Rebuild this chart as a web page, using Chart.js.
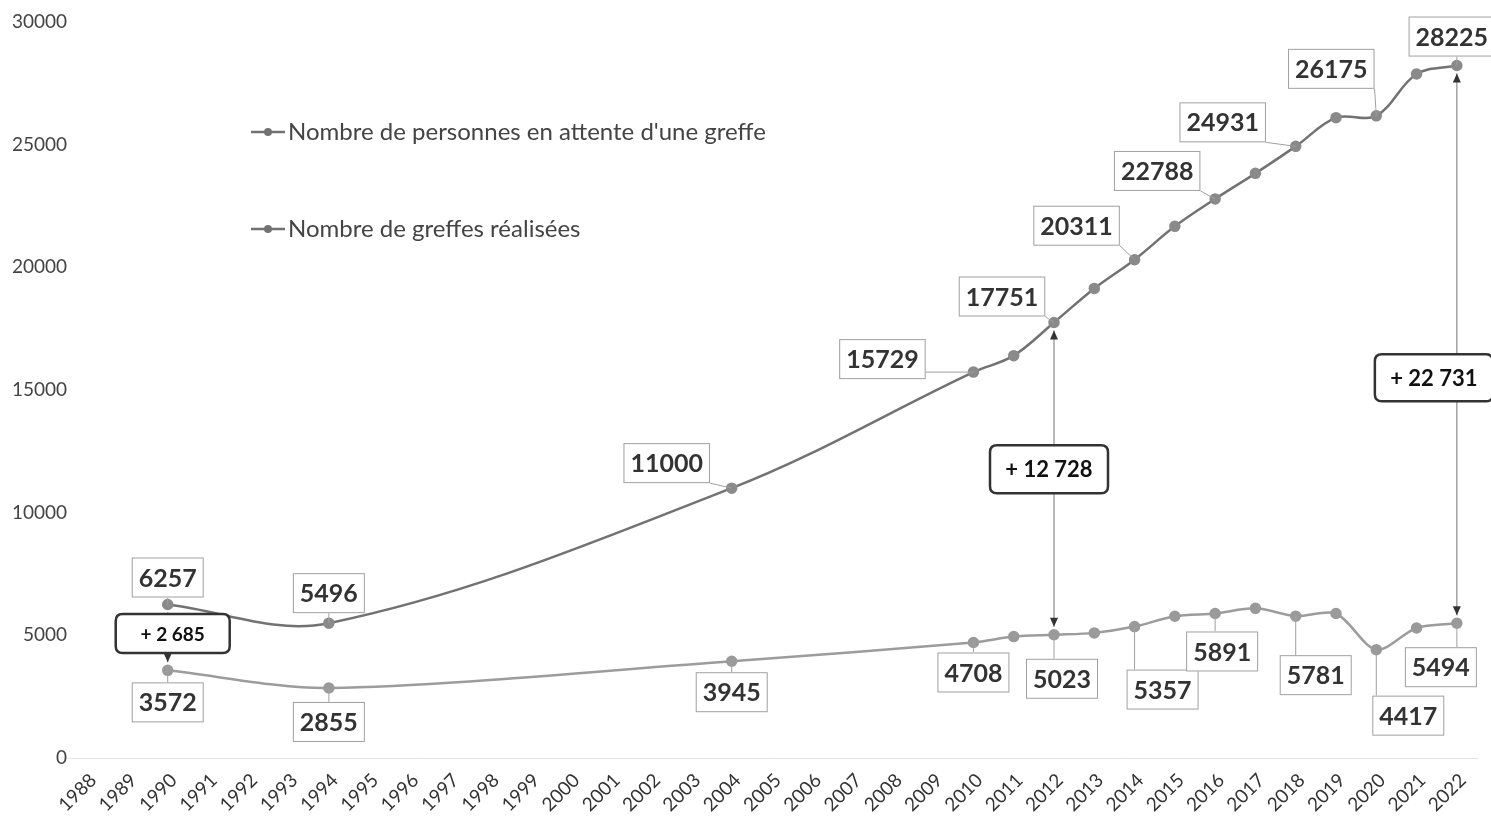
<!DOCTYPE html>
<html>
<head>
<meta charset="utf-8">
<script src="https://cdn.jsdelivr.net/npm/chart.js@4"></script>
<style>
  body { margin: 0; background: #fff; }
  #wrap { width: 1491px; height: 829px; }
</style>
</head>
<body>
<div id="wrap"><canvas id="canvas"></canvas></div>
<script>
//****DATA****//

var years = ['1988', '1989', '1990', '1991', '1992', '1993', '1994', '1995', '1996', '1997',
  '1998', '1999', '2000', '2001', '2002', '2003', '2004', '2005', '2006', '2007', '2008',
  '2009', '2010', '2011', '2012', '2013', '2014', '2015', '2016', '2017', '2018', '2019',
  '2020', '2021', '2022'];

var waitingLabel = 'Nombre de personnes en attente d\'une greffe';
var waiting = [null, null, 6257, null, null, null, 5496, null, null, null,
  null, null, null, null, null, null, 11000, null, null, null, null,
  null, 15729, 16400, 17751, 19140, 20311, 21670, 22788, 23830, 24931, 26100,
  26175, 27880, 28225];

var graftsLabel = 'Nombre de greffes réalisées';
var grafts = [null, null, 3572, null, null, null, 2855, null, null, null,
  null, null, null, null, null, null, 3945, null, null, null, null,
  null, 4708, 4950, 5023, 5100, 5357, 5780, 5891, 6100, 5781, 5890,
  4417, 5300, 5494];

var labelledYears = ['1990', '1994', '2004', '2010', '2012', '2014', '2016', '2018', '2020', '2022'];
var gapYears = ['1990', '2012', '2022'];

var yTicks = [0, 5000, 10000, 15000, 20000, 25000, 30000];

//****STYLE (pixel offsets of the callouts, not data)****//

var waitingOffsets = [[0, -27], [0, -30], [-65, -25], [-91, -13], [-52, -26],
  [-58, -34], [-58, -28], [-73, -24], [-45, -47], [-5, -29]];
var graftsOffsets = [[0, 32], [0, 34], [0, 31], [0, 30], [8, 44],
  [28, 63], [7, 38], [20, 59], [32, 66], [-16, 44]];
var gapStyle = [
  { dx: 5, frac: 0.56, font: 19, w: 114, h: 39 },
  { dx: -5, frac: 0.53, font: 22, w: 118, h: 48 },
  { dx: -23, frac: 0.44, font: 22, w: 118, h: 47 }
];

var darkLine = '#727272';
var lightLine = '#9c9c9c';
var fontName = 'Lato, "Open Sans", sans-serif';

//****HELPERS****//

function fmtGap(n) {
  var s = String(n);
  return '+ ' + s.replace(/\B(?=(\d{3})+(?!\d))/g, ' ');
}

function roundRect(ctx, x, y, w, h, r) {
  ctx.beginPath();
  ctx.moveTo(x + r, y);
  ctx.lineTo(x + w - r, y);
  ctx.quadraticCurveTo(x + w, y, x + w, y + r);
  ctx.lineTo(x + w, y + h - r);
  ctx.quadraticCurveTo(x + w, y + h, x + w - r, y + h);
  ctx.lineTo(x + r, y + h);
  ctx.quadraticCurveTo(x, y + h, x, y + h - r);
  ctx.lineTo(x, y + r);
  ctx.quadraticCurveTo(x, y, x + r, y);
  ctx.closePath();
}

function arrowHead(ctx, x, y, dir) {
  ctx.beginPath();
  ctx.moveTo(x, y);
  ctx.lineTo(x - 4, y + dir * 9);
  ctx.lineTo(x + 4, y + dir * 9);
  ctx.closePath();
  ctx.fill();
}

function callout(ctx, chart, values, offsets) {
  var xs = chart.scales.x, ys = chart.scales.y;
  for (var i = 0; i < labelledYears.length; i++) {
    var idx = years.indexOf(labelledYears[i]);
    var v = values[idx];
    var px = xs.getPixelForValue(idx), py = ys.getPixelForValue(v);
    ctx.font = 'bold 25px ' + fontName;
    var txt = String(v);
    var w = ctx.measureText(txt).width + 14, h = 40;
    var bx = px + offsets[i][0] - w / 2, by = py + offsets[i][1] - h / 2;
    var nx = Math.max(bx, Math.min(px, bx + w));
    var ny = Math.max(by, Math.min(py, by + h));
    ctx.strokeStyle = '#a0a0a0';
    ctx.lineWidth = 1;
    ctx.beginPath();
    ctx.moveTo(px, py);
    ctx.lineTo(nx, ny);
    ctx.stroke();
    ctx.fillStyle = '#fff';
    ctx.fillRect(bx, by, w, h);
    ctx.strokeRect(bx + 0.5, by + 0.5, w - 1, h - 1);
    ctx.fillStyle = '#333';
    ctx.textAlign = 'center';
    ctx.textBaseline = 'middle';
    ctx.fillText(txt, bx + w / 2, by + h / 2 + 1);
  }
}

//****PLUGIN****//

var annotations = {
  id: 'annotations',
  afterDatasetsDraw: function(chart) {
    var ctx = chart.ctx;
    var xs = chart.scales.x, ys = chart.scales.y;
    ctx.save();

    // gap arrows
    var boxes = [];
    for (var g = 0; g < gapYears.length; g++) {
      var idx = years.indexOf(gapYears[g]);
      var x = xs.getPixelForValue(idx);
      var yu = ys.getPixelForValue(waiting[idx]);
      var yl = ys.getPixelForValue(grafts[idx]);
      ctx.strokeStyle = '#8a8a8a';
      ctx.lineWidth = 1.2;
      ctx.beginPath();
      ctx.moveTo(x, yu + 8);
      ctx.lineTo(x, yl - 8);
      ctx.stroke();
      ctx.fillStyle = '#333';
      arrowHead(ctx, x, yu + 8, 1);
      arrowHead(ctx, x, yl - 8, -1);
      boxes.push({ x: x + gapStyle[g].dx, y: yl - (yl - yu) * gapStyle[g].frac,
        txt: fmtGap(waiting[idx] - grafts[idx]), s: gapStyle[g] });
    }

    callout(ctx, chart, waiting, waitingOffsets);
    callout(ctx, chart, grafts, graftsOffsets);

    for (var b = 0; b < boxes.length; b++) {
      var bx = boxes[b];
      roundRect(ctx, bx.x - bx.s.w / 2, bx.y - bx.s.h / 2, bx.s.w, bx.s.h, 7);
      ctx.fillStyle = '#fff';
      ctx.fill();
      ctx.strokeStyle = '#333';
      ctx.lineWidth = 2.5;
      ctx.stroke();
      ctx.fillStyle = '#111';
      ctx.font = 'bold ' + bx.s.font + 'px ' + fontName;
      ctx.textAlign = 'center';
      ctx.textBaseline = 'middle';
      ctx.fillText(bx.txt, bx.x, bx.y + 1);
    }

    // legend
    var items = [[waitingLabel, darkLine, 132], [graftsLabel, darkLine, 229]];
    for (var k = 0; k < items.length; k++) {
      var ly = items[k][2];
      ctx.strokeStyle = items[k][1];
      ctx.fillStyle = items[k][1];
      ctx.lineWidth = 2.5;
      ctx.beginPath();
      ctx.moveTo(251, ly);
      ctx.lineTo(285, ly);
      ctx.stroke();
      ctx.beginPath();
      ctx.arc(268, ly, 4, 0, Math.PI * 2);
      ctx.fill();
      ctx.fillStyle = '#444';
      ctx.font = '24px ' + fontName;
      ctx.textAlign = 'left';
      ctx.textBaseline = 'middle';
      ctx.fillText(items[k][0], 288, ly);
    }
    ctx.restore();
  }
};

//****CHART****//

var ctx = document.getElementById('canvas').getContext('2d');

var chart = new Chart(ctx, {
  type: 'line',
  data: {
    labels: years,
    datasets: [
      {
        label: waitingLabel,
        data: waiting,
        borderColor: darkLine,
        backgroundColor: darkLine,
        borderWidth: 2.5,
        pointRadius: 4.5,
        pointBackgroundColor: '#8a8a8a',
        pointBorderColor: '#8a8a8a',
        tension: 0.35,
        spanGaps: true
      },
      {
        label: graftsLabel,
        data: grafts,
        borderColor: lightLine,
        backgroundColor: lightLine,
        borderWidth: 2.5,
        pointRadius: 4.5,
        pointBackgroundColor: '#9a9a9a',
        pointBorderColor: '#9a9a9a',
        tension: 0.3,
        spanGaps: true
      }
    ]
  },
  options: {
    responsive: true,
    maintainAspectRatio: false,
    animation: false,
    layout: { padding: { left: 0, right: 14, top: 22, bottom: 0 } },
    plugins: {
      legend: { display: false },
      tooltip: { enabled: false }
    },
    scales: {
      x: {
        offset: true,
        grid: { display: false },
        border: { display: true, color: '#e4e4e4' },
        ticks: {
          autoSkip: false,
          maxRotation: 45,
          minRotation: 45,
          labelOffset: 6,
          color: '#333',
          font: { family: fontName, size: 19 }
        },
        afterFit: function(scale) { scale.height = 71; }
      },
      y: {
        min: 0,
        max: 30000,
        grid: { display: false, drawTicks: false },
        border: { display: false },
        afterBuildTicks: function(scale) {
          scale.ticks = yTicks.map(function(v) { return { value: v }; });
        },
        ticks: {
          padding: 0,
          color: '#444',
          font: { family: fontName, size: 19 },
          callback: function(value) { return String(value); }
        },
        afterFit: function(scale) { scale.width = 67; }
      }
    }
  },
  plugins: [annotations]
});
</script>
</body>
</html>
